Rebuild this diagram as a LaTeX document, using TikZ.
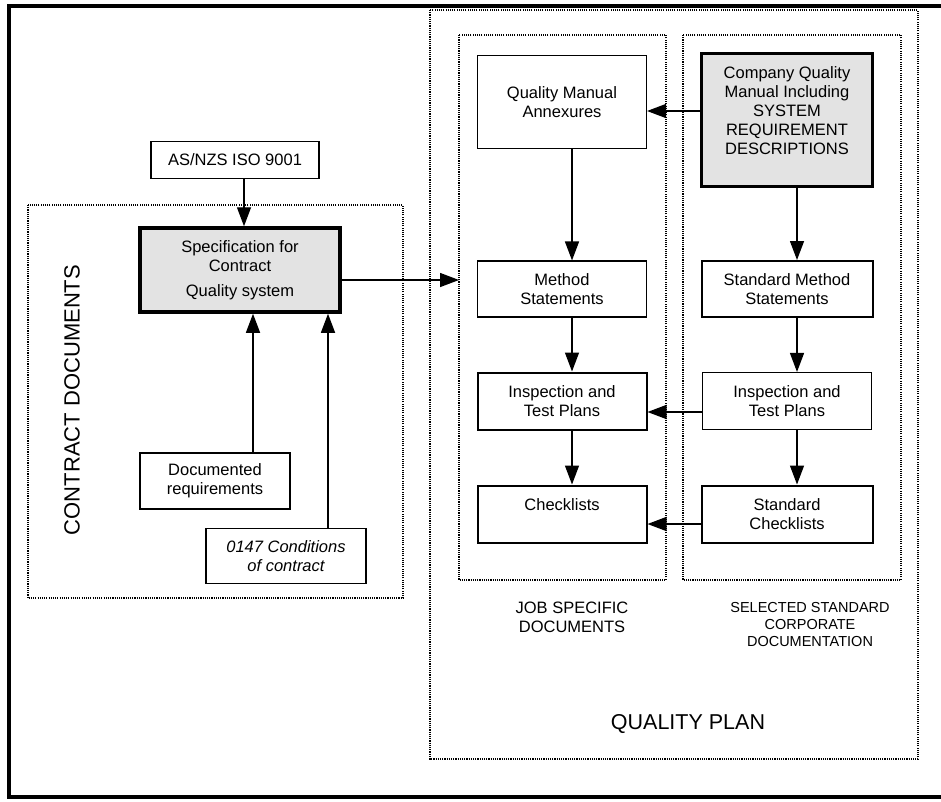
\documentclass[tikz,border=0pt]{standalone}
\usepackage{fontspec}
\setmainfont{Liberation Sans}
\usepackage{xcolor}
\definecolor{shade}{HTML}{E3E3E3}
\usetikzlibrary{arrows.meta}

\begin{document}
\begin{tikzpicture}[x=1pt,y=-1pt,
		box/.style={draw,line width=1.1pt,align=center,inner sep=0pt,font=\fontsize{16.5}{19}\selectfont},
		mid/.style={line width=2pt},
		heavy/.style={line width=3.5pt,fill=shade},
		zone/.style={line width=1.3pt,dash pattern=on 1.1pt off 1.1pt},
		link/.style={line width=1.4pt,-{Triangle[length=19pt,width=14pt]}},
		caption/.style={align=center,font=\fontsize{16.5}{19}\selectfont}]
		\useasboundingbox (0,0) rectangle (941,801);
		\fill [white] (0,0) rectangle (941,801);
		\draw [line width=4pt] (960,6) -- (9,6) -- (9,797) -- (960,797);
		%
		\draw [zone] (28,205) rectangle (403,598);
		\draw [zone] (430,10) rectangle (918,759);
		\draw [zone] (459,35) rectangle (666,580);
		\draw [zone] (683,35) rectangle (901,580);
		\coordinate (jobedge) at (459,280);
		%
		\node [box,minimum width=168,minimum height=37] (iso) at (235,160) {AS/NZS ISO 9001};
		\node [box,heavy,minimum width=200,minimum height=84] (spec) at (240,270) {Specification for\\Contract\\[6pt]Quality system};
		\node [box,minimum width=150,minimum height=56] (docreq) at (215,481) {Documented\\requirements};
		\node [box,minimum width=160,minimum height=55,font=\fontsize{16.5}{19}\selectfont\itshape] (cond) at (286,556) {0147 Conditions\\of contract};
		%
		\node [box,minimum width=169,minimum height=93] (qma) at (562,102) {Quality Manual\\Annexures};
		\node [box,heavy,minimum width=171,minimum height=133] (cqm) at (787,120) {Company Quality\\Manual Including\\SYSTEM\\REQUIREMENT\\DESCRIPTIONS\\\mbox{}};
		\node [box,minimum width=169,minimum height=56] (ms) at (562,289) {Method\\Statements};
		\node [box,mid,minimum width=171,minimum height=56] (sms) at (787,289) {Standard Method\\Statements};
		\node [box,mid,minimum width=169,minimum height=57] (itp) at (562,401) {Inspection and\\Test Plans};
		\node [box,minimum width=169,minimum height=57] (sitp) at (787,401) {Inspection and\\Test Plans};
		\node [box,mid,minimum width=169,minimum height=57] (chk) at (562,514) {Checklists\\\mbox{}};
		\node [box,mid,minimum width=171,minimum height=57] (schk) at (787,514) {Standard\\Checklists};
		%
		\node [rotate=90,font=\fontsize{22}{26}\selectfont] (contract) at (72,400) {CONTRACT DOCUMENTS};
		\node [caption] (job) at (572,617) {JOB SPECIFIC\\DOCUMENTS};
		\node [align=center,font=\fontsize{14.5}{17}\selectfont] (corp) at (810,624) {SELECTED STANDARD\\CORPORATE\\DOCUMENTATION};
		\node [font=\fontsize{21.5}{25}\selectfont] (plan) at (688,724) {QUALITY PLAN};
		%
		\draw [link] ([xshift=9pt]iso.south) -- ([xshift=9pt]iso.south |- spec.north);
		\draw [link] ([xshift=38pt]docreq.north) -- ([xshift=38pt]docreq.north |- spec.south);
		\draw [link] ([xshift=42pt]cond.north) -- ([xshift=42pt]cond.north |- spec.south);
		\draw [link] ([yshift=-10pt]spec.east) -- (jobedge);
		\draw [link] ([yshift=9pt]cqm.west) -- ([yshift=-9pt]qma.east);
		\draw [link] ([xshift=10pt]qma.south) -- ([xshift=10pt]ms.north);
		\draw [link] ([xshift=10pt]ms.south) -- ([xshift=10pt]itp.north);
		\draw [link] ([xshift=10pt]itp.south) -- ([xshift=10pt]chk.north);
		\draw [link] ([xshift=10pt]cqm.south) -- ([xshift=10pt]sms.north);
		\draw [link] ([xshift=10pt]sms.south) -- ([xshift=10pt]sitp.north);
		\draw [link] ([xshift=10pt]sitp.south) -- ([xshift=10pt]schk.north);
		\draw [link] ([yshift=-11pt]sitp.west) -- ([yshift=-11pt]itp.east);
		\draw [link] ([yshift=-10pt]schk.west) -- ([yshift=-10pt]chk.east);
	\end{tikzpicture}
\end{document}
